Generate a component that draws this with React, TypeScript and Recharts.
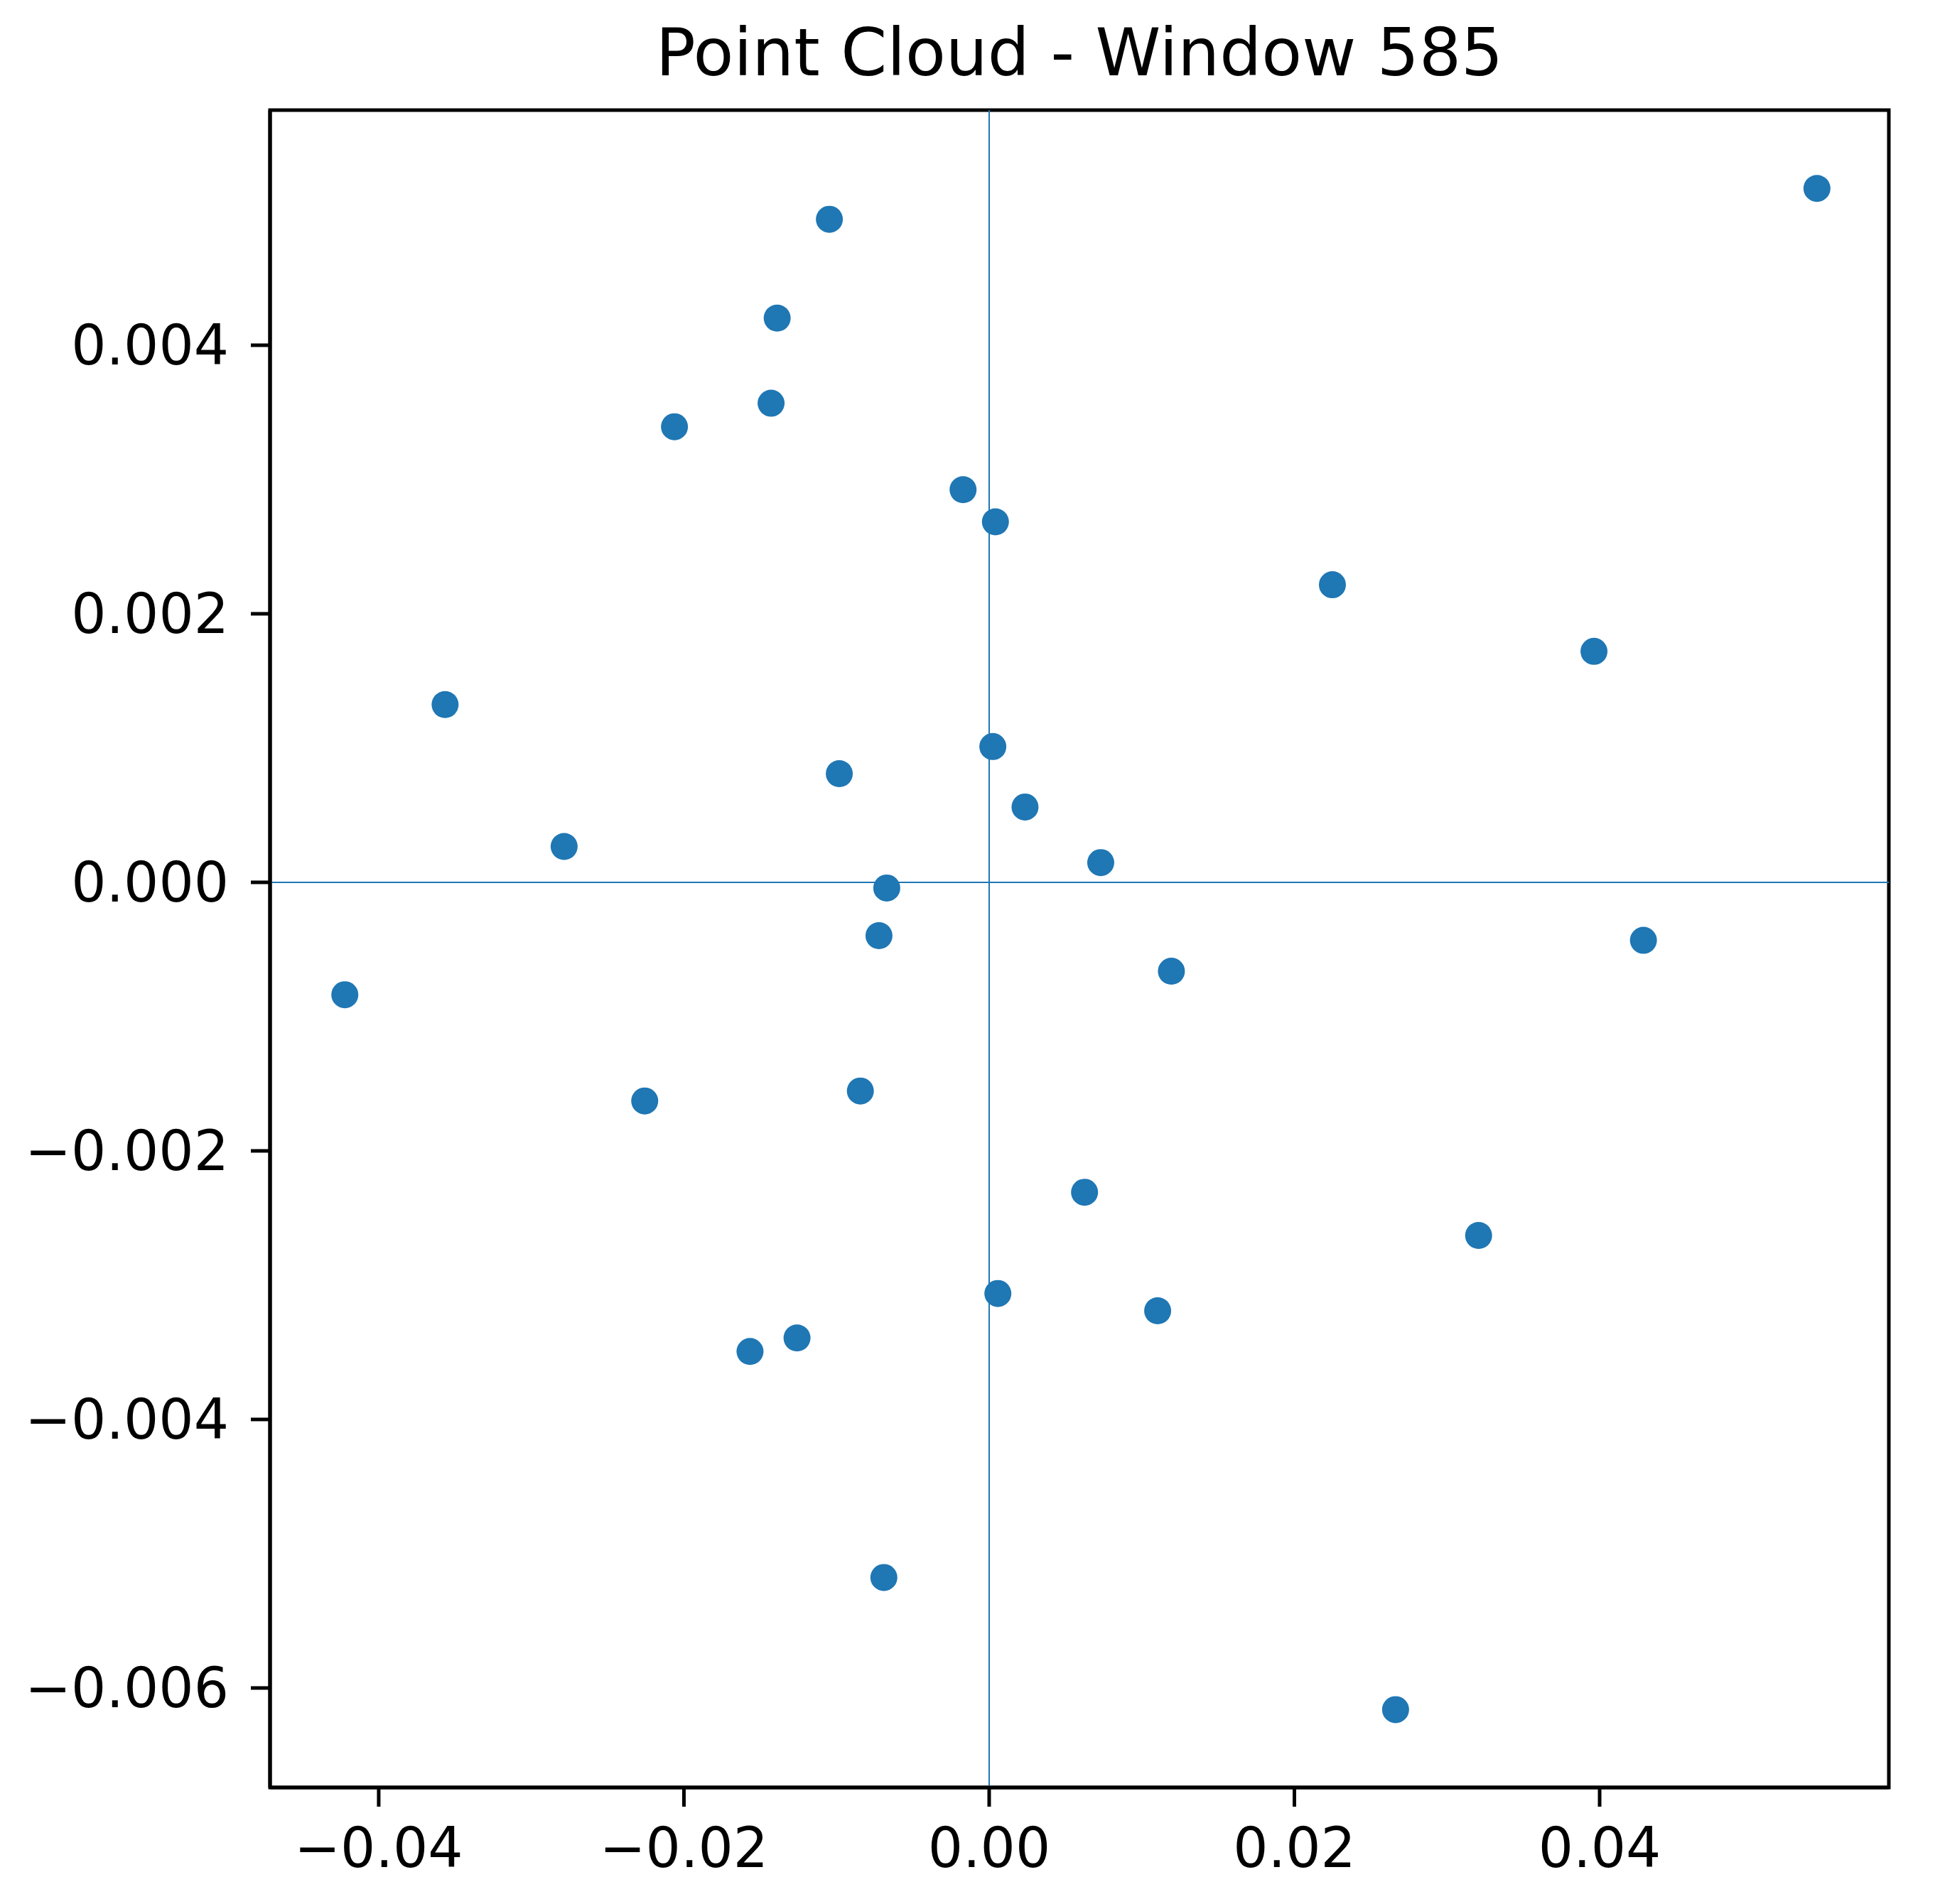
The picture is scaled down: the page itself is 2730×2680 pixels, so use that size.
import {
  ReferenceArea,
  ReferenceLine,
  Scatter,
  ScatterChart,
  XAxis,
  YAxis,
} from "recharts";

// point cloud
const xs = [
  0.05424, -0.01047, -0.01389, -0.01429, -0.02062, -0.00171, 0.00041, 0.02249,
  0.03963, -0.03565, 0.00024, -0.00982, 0.00235, -0.02785, 0.00731, -0.00671,
  -0.00722, 0.04287, 0.01194, -0.04222, -0.02257, -0.00844, 0.00625, 0.03207,
  0.00057, 0.01104, -0.01259, -0.01567, -0.0069, 0.02663,
];
const ys = [
  0.005168, 0.004938, 0.004202, 0.003568, 0.003393, 0.002924, 0.002685, 0.002216,
  0.00172, 0.001324, 0.001011, 0.000809, 0.000561, 0.000267, 0.000147, -0.000042,
  -0.000397, -0.000432, -0.000662, -0.000837, -0.001628, -0.001554, -0.002308, -0.00263,
  -0.003062, -0.003191, -0.003393, -0.003494, -0.005177, -0.006161,
];

const xTicks = [-0.04, -0.02, 0, 0.02, 0.04];
const yTicks = [-0.006, -0.004, -0.002, 0, 0.002, 0.004];
const xDomain: [number, number] = [-0.04712, 0.05895];
const yDomain: [number, number] = [-0.006741, 0.005751];

const data = xs.map((x, i) => ({ x, y: ys[i] }));

const BLUE = "#1f77b4";
const FONT = "'DejaVu Sans', sans-serif";
const minus = (s: string) => s.replace("-", "\u2212");

const Dot = (p: any) => <circle cx={p.cx} cy={p.cy} r={19} fill={BLUE} />;

export default function App() {
  return (
    <div style={{ position: "absolute", left: 0, top: 0, width: 2730, height: 2680, background: "#fff" }}>
      <div
        style={{
          position: "absolute",
          left: 380,
          width: 2278,
          top: 19,
          textAlign: "center",
          fontFamily: FONT,
          fontSize: 93,
          lineHeight: "110px",
          color: "#000",
        }}
      >
        Point Cloud - Window 585
      </div>
      <ScatterChart
        width={2730}
        height={2680}
        margin={{ top: 155, right: 72, left: 80, bottom: 24 }}
      >
        <XAxis
          type="number"
          dataKey="x"
          domain={xDomain}
          ticks={xTicks}
          allowDataOverflow
          height={140}
          tickSize={27}
          tickMargin={30}
          axisLine={{ stroke: "#000", strokeWidth: 5 }}
          tickLine={{ stroke: "#000", strokeWidth: 5 }}
          tick={{ fill: "#000", fontSize: 77.5, fontFamily: FONT }}
          tickFormatter={(v: number) => minus(v.toFixed(2))}
        />
        <YAxis
          type="number"
          dataKey="y"
          domain={yDomain}
          ticks={yTicks}
          allowDataOverflow
          width={300}
          tickSize={27}
          tickMargin={31}
          axisLine={{ stroke: "#000", strokeWidth: 5 }}
          tickLine={{ stroke: "#000", strokeWidth: 5 }}
          tick={{ fill: "#000", fontSize: 77.5, fontFamily: FONT }}
          tickFormatter={(v: number) => minus(v.toFixed(3))}
        />
        <ReferenceLine x={0} stroke={BLUE} strokeWidth={2} />
        <ReferenceLine y={0} stroke={BLUE} strokeWidth={2} />
        <Scatter data={data} fill={BLUE} shape={Dot} isAnimationActive={false} />
        <ReferenceArea
          x1={xDomain[0]}
          x2={xDomain[1]}
          y1={yDomain[0]}
          y2={yDomain[1]}
          fill="none"
          fillOpacity={0}
          stroke="#000"
          strokeWidth={5}
          ifOverflow="visible"
        />
      </ScatterChart>
    </div>
  );
}
